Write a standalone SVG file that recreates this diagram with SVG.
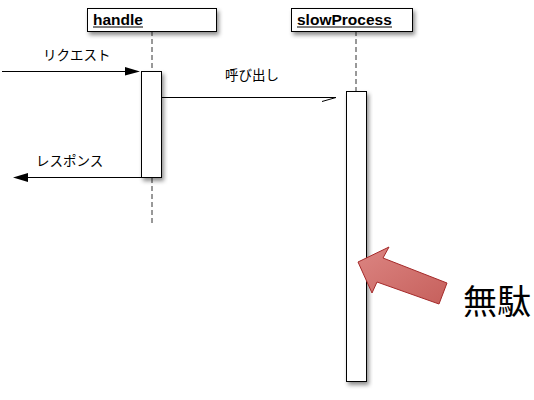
<svg xmlns="http://www.w3.org/2000/svg" width="534" height="400" viewBox="0 0 534 400">
<defs>
<filter id="sh" x="-30%" y="-30%" width="160%" height="160%">
<feDropShadow dx="2" dy="3" stdDeviation="2.2" flood-color="#000" flood-opacity="0.45"/>
</filter>
<linearGradient id="rg" x1="0" y1="0" x2="1" y2="1">
<stop offset="0" stop-color="#dc8582"/>
<stop offset="1" stop-color="#c6605c"/>
</linearGradient>
</defs>
<style>
.box{fill:#fff;stroke:#000;stroke-width:1}
.life{stroke:#333;stroke-width:1;stroke-dasharray:5 3;fill:none}
.msg{stroke:#000;stroke-width:1;fill:none}
.name{font-family:"Liberation Sans",Arial,sans-serif;font-weight:bold;font-size:15.5px;fill:#000}
.lbl{font-family:"Liberation Sans","Noto Sans CJK JP",sans-serif;font-size:13.5px;fill:#000}
</style>
<rect width="534" height="400" fill="#fff"/>
<g id="handle">
<line class="life" x1="152" y1="31" x2="152" y2="71"/>
<line class="life" x1="152" y1="178" x2="152" y2="226"/>
<rect class="box" x="87.5" y="8.5" width="129" height="23" filter="url(#sh)"/>
<text class="name" x="93" y="25">handle</text>
<line x1="93" y1="27" x2="143" y2="27" stroke="#000" stroke-width="1"/>
<rect class="box" x="141.5" y="71.5" width="20" height="106" filter="url(#sh)"/>
</g>
<g id="slowProcess">
<line class="life" x1="356" y1="31" x2="356" y2="91"/>
<rect class="box" x="291.5" y="8.5" width="121" height="23" filter="url(#sh)"/>
<text class="name" x="297" y="25">slowProcess</text>
<line x1="297" y1="27" x2="392" y2="27" stroke="#000" stroke-width="1"/>
<rect class="box" x="346.5" y="91.5" width="20" height="290" filter="url(#sh)"/>
</g>
<g id="connectors">
<line class="msg" x1="2" y1="71.5" x2="128" y2="71.5"/>
<polygon points="125,67 140,71.5 125,75.5" fill="#000"/>
<text class="lbl" x="43" y="60">リクエスト</text>
<line class="msg" x1="162" y1="97.5" x2="336" y2="97.5"/>
<line class="msg" x1="322" y1="101.5" x2="336" y2="97.5"/>
<text class="lbl" x="225" y="80">呼び出し</text>
<line class="msg" x1="26" y1="177.5" x2="141" y2="177.5"/>
<polygon points="28,173 13,177.5 28,182" fill="#000"/>
<text class="lbl" x="36" y="166">レスポンス</text>
</g>
<g id="callout">
<polygon points="358,262 389,247 383,258 447,283 439,304 377,282 372,293" fill="url(#rg)" stroke="#a52a2a" stroke-width="1" stroke-linejoin="miter"/>
<text x="463" y="314" font-family="'Noto Sans CJK JP',sans-serif" font-size="34px" fill="#000">無駄</text>
</g>
</svg>
